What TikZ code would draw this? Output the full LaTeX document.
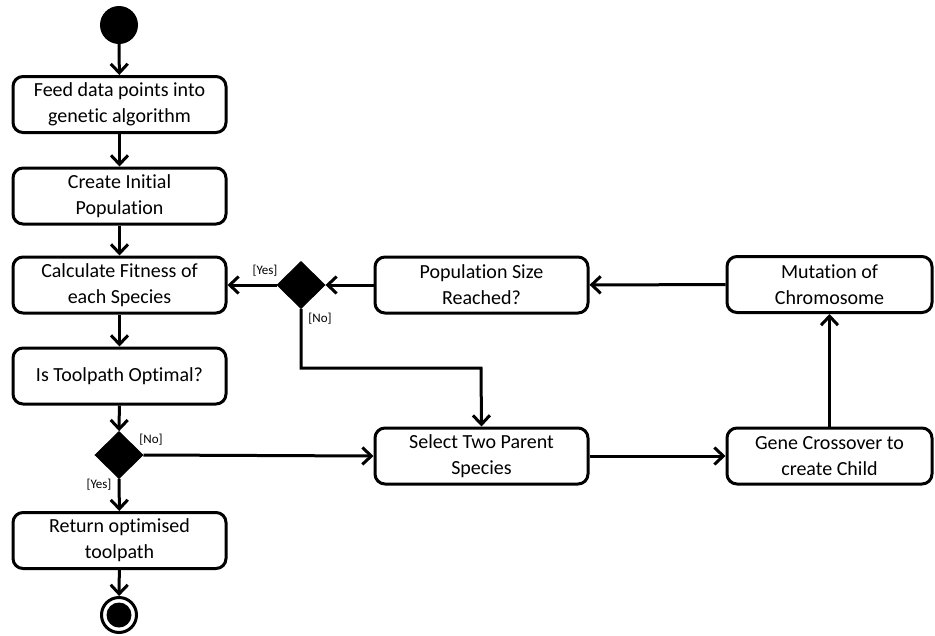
\documentclass[tikz,border=0pt]{standalone}
\usepackage{fontspec}
\setmainfont{Carlito}[Ligatures={NoCommon}]
\usetikzlibrary{arrows.meta,shapes.geometric,positioning}
\tikzset{
  activity/.style={draw, line width=3pt, rounded corners=10pt, minimum width=213pt,
    minimum height=56pt, inner sep=0pt, align=center,
    font=\fontsize{20}{26}\selectfont},
  decision/.style={draw, fill=black, diamond, line width=1pt, minimum width=48pt,
    minimum height=47pt, inner sep=0pt},
  flow/.style={line width=3pt, -{Straight Barb[length=9pt,width=17pt,line width=3pt]}},
  guard/.style={font=\fontsize{13}{15}\selectfont, inner sep=0pt},
}
\begin{document}
\begin{tikzpicture}[x=1pt,y=-1pt]
\useasboundingbox (0,0) rectangle (935,635);

% initial and final states
\node (start) [circle, fill=black, minimum size=38pt, inner sep=0pt] at (119,25) {};
\node (finish) [circle, draw, line width=3pt, minimum size=35pt, inner sep=0pt] at (119,615) {};
\fill (finish.center) circle (12.5pt);

% main column
\node (feed) [activity] at (119.5,104.5) {Feed data points into\\genetic algorithm};
\node (init) [activity] at (119.5,196) {Create Initial\\Population};
\node (fit)  [activity] at (119.5,285) {Calculate Fitness of\\each Species};
\node (opt)  [activity] at (119.5,376) {Is Toolpath Optimal?};
\node (dopt) [decision] at (119,455) {};
\node (ret)  [activity] at (119.5,540.5) {Return optimised\\toolpath};

% evolution loop
\node (dpop) [decision] at (301,285) {};
\node (pop)  [activity] at (481.5,285) {Population Size\\Reached?};
\node (mut)  [activity, minimum width=205pt] at (829.5,284.5) {Mutation of\\Chromosome};
\node (sel)  [activity] at (481.5,456) {Select Two Parent\\Species};
\node (gene) [activity, minimum width=205pt] at (829.5,456) {Gene Crossover to\\create Child};

\coordinate (bend1) at (301,368);
\coordinate (bend2) at (481,368);

% connectors
\draw[flow] (start) -- (feed);
\draw[flow] (feed) -- (init);
\draw[flow] (init) -- (fit);
\draw[flow] (fit) -- (opt);
\draw[flow] (opt) -- (dopt);
\draw[flow] (dopt) -- (ret);
\draw[flow] (ret) -- (finish);
\draw[flow] (dopt.east) -- (sel.west);
\draw[flow] (sel) -- (gene);
\draw[flow] (gene) -- (mut);
\draw[flow] (mut) -- (pop);
\draw[flow] (pop) -- (dpop.east);
\draw[flow] (dpop.west) -- (fit.east);
\draw[flow, rounded corners=0pt] (dpop.south) -- (bend1) -- (bend2) -- (sel.north);

% guards
\node[guard] at (265,271) {[Yes]};
\node[guard] at (320,319) {[No]};
\node[guard] at (151,440) {[No]};
\node[guard] at (99,485) {[Yes]};
\end{tikzpicture}
\end{document}
